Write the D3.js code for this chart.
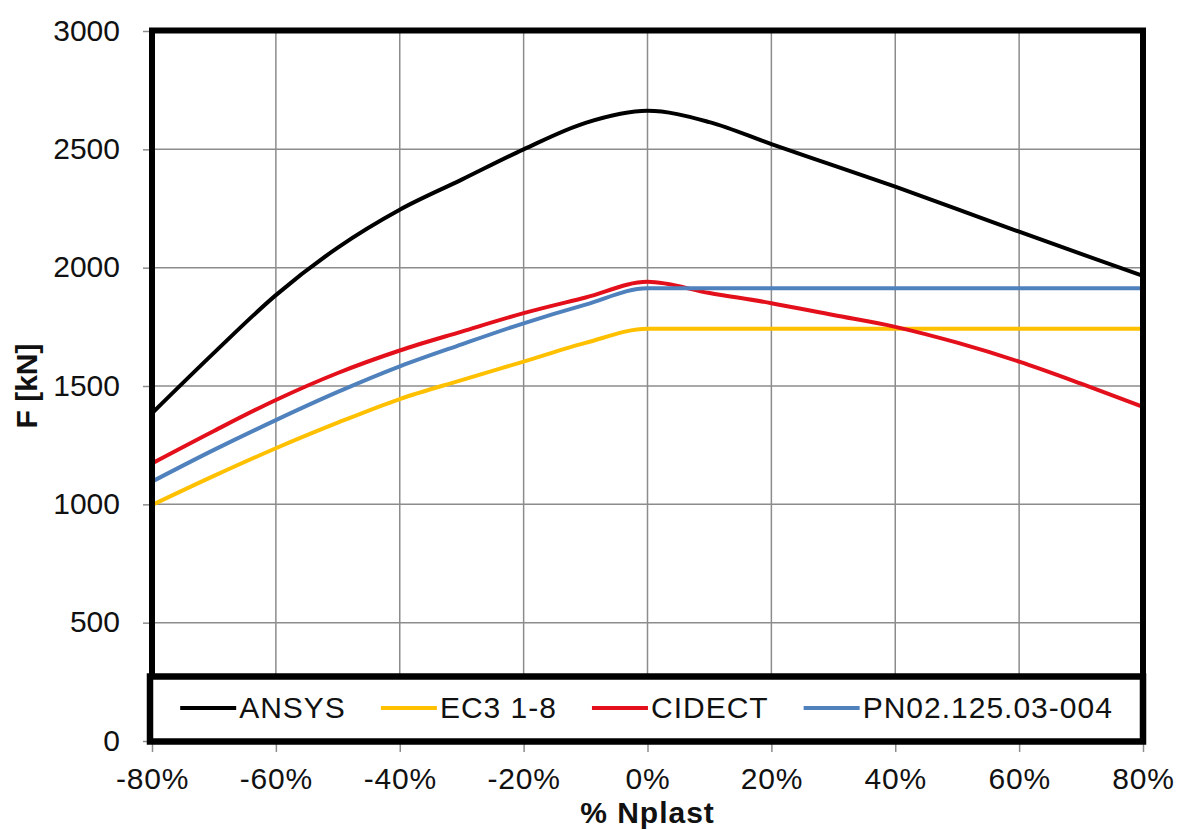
<!DOCTYPE html>
<html>
<head>
<meta charset="utf-8">
<script src="https://cdn.jsdelivr.net/npm/d3@7"></script>
<style>
  body { margin: 0; background: #fff; }
  svg text { font-family: "Liberation Sans", Arial, sans-serif; fill: #111; }
</style>
</head>
<body>
<svg id="chart" width="1179" height="830"></svg>
<script>
// % of Nplast on the x axis
var pctLevels = [-80, -70, -60, -50, -40, -30, -20, -10, 0, 10, 20, 30, 40, 50, 60, 70, 80];

// F [kN]
var ansys  = [1385, 1640, 1884, 2085, 2245, 2372, 2500, 2612, 2663, 2615, 2522, 2432, 2342, 2247, 2152, 2058, 1965];
var ec3    = [997, 1120, 1237, 1345, 1445, 1525, 1603, 1682, 1742, 1742, 1742, 1742, 1742, 1742, 1742, 1742, 1742];
var cidect = [1173, 1310, 1441, 1555, 1650, 1730, 1808, 1874, 1940, 1893, 1850, 1800, 1750, 1683, 1603, 1510, 1412];
var pn     = [1096, 1230, 1356, 1475, 1583, 1676, 1765, 1844, 1913, 1913, 1913, 1913, 1913, 1913, 1913, 1913, 1913];

var seriesNames  = ["ANSYS", "EC3 1-8", "CIDECT", "PN02.125.03-004"];
var seriesColors = ["#000000", "#FFC000", "#E3101B", "#4F81BD"];

var xTicks = [-80, -60, -40, -20, 0, 20, 40, 60, 80];
var yTicks = [0, 500, 1000, 1500, 2000, 2500, 3000];

var svg = d3.select("#chart");

var x = d3.scaleLinear().domain([-80, 80]).range([152, 1143]);
var y = d3.scaleLinear().domain([0, 3000]).range([741, 31]);

// grid
svg.append("g")
  .selectAll("line.h")
  .data(yTicks).enter().append("line")
    .attr("x1", x(-80)).attr("x2", x(80))
    .attr("y1", d => y(d)).attr("y2", d => y(d))
    .style("stroke", "#8c8c8c").style("stroke-width", 1.5);

svg.append("g")
  .selectAll("line.v")
  .data(xTicks).enter().append("line")
    .attr("x1", d => x(d)).attr("x2", d => x(d))
    .attr("y1", y(0)).attr("y2", y(3000))
    .style("stroke", "#8c8c8c").style("stroke-width", 1.5);

// axes (ticks + labels only)
var yAxis = svg.append("g")
  .attr("transform", "translate(" + x(-80) + ",0)")
  .call(d3.axisLeft(y).tickValues(yTicks).tickSize(9).tickPadding(23).tickFormat(d3.format("d")));

var xAxis = svg.append("g")
  .attr("transform", "translate(0," + y(0) + ")")
  .call(d3.axisBottom(x).tickValues(xTicks).tickSize(11).tickPadding(16).tickFormat(d => d + "%"));

[yAxis, xAxis].forEach(function(a) {
  a.select(".domain").remove();
  a.selectAll(".tick line").style("stroke", "#8c8c8c").style("stroke-width", 1.5);
  a.selectAll(".tick text").style("font-size", "30px").style("fill", "#111")
    .style("font-family", "'Liberation Sans', Arial, sans-serif");
});
yAxis.selectAll(".tick text").attr("dy", "0.3em");
xAxis.selectAll(".tick text").style("letter-spacing", "0.8px");

// series lines
var line = d3.line()
  .x((d, i) => x(pctLevels[i]))
  .y(d => y(d))
  .curve(d3.curveMonotoneX);

var allSeries = [ansys, ec3, cidect, pn];

svg.append("g")
  .selectAll("path")
  .data(allSeries).enter().append("path")
    .attr("d", line)
    .style("fill", "none")
    .style("stroke", (d, i) => seriesColors[i])
    .style("stroke-width", 4)
    .style("stroke-linejoin", "round");

// plot frame
svg.append("rect")
  .attr("x", x(-80)).attr("y", y(3000) - 0.5)
  .attr("width", x(80) - x(-80)).attr("height", y(0) - y(3000))
  .style("fill", "none").style("stroke", "#000").style("stroke-width", 6);

// legend
var legendBox = { x: 150, y: 676.5, w: 993, h: 65 };
svg.append("rect")
  .attr("x", legendBox.x).attr("y", legendBox.y)
  .attr("width", legendBox.w).attr("height", legendBox.h)
  .style("fill", "#fff").style("stroke", "#000").style("stroke-width", 6.5);

var legend = svg.append("g");
var sampleLen = 56, gapText = 3, gapItem = 35;
var cursor = 0;
seriesNames.forEach(function(name, i) {
  var g = legend.append("g").attr("transform", "translate(" + cursor + ",0)");
  g.append("line")
    .attr("x1", 0).attr("x2", sampleLen)
    .attr("y1", 708).attr("y2", 708)
    .style("stroke", seriesColors[i]).style("stroke-width", 4);
  var t = g.append("text")
    .attr("x", sampleLen + gapText).attr("y", 718)
    .style("font-size", "30px").style("letter-spacing", "1px")
    .text(name);
  cursor += sampleLen + gapText + t.node().getComputedTextLength() + gapItem;
});
var legendWidth = cursor - gapItem;
legend.attr("transform", "translate(" + (legendBox.x + legendBox.w / 2 - legendWidth / 2) + ",0)");

// axis titles
svg.append("text")
  .attr("x", (x(-80) + x(80)) / 2).attr("y", 823)
  .attr("text-anchor", "middle")
  .style("font-size", "30px").style("font-weight", "bold").style("letter-spacing", "1px")
  .text("% Nplast");

svg.append("text")
  .attr("transform", "translate(37," + ((y(0) + y(3000)) / 2) + ") rotate(-90)")
  .attr("text-anchor", "middle")
  .style("font-size", "30px").style("font-weight", "bold")
  .text("F [kN]");
</script>
</body>
</html>
